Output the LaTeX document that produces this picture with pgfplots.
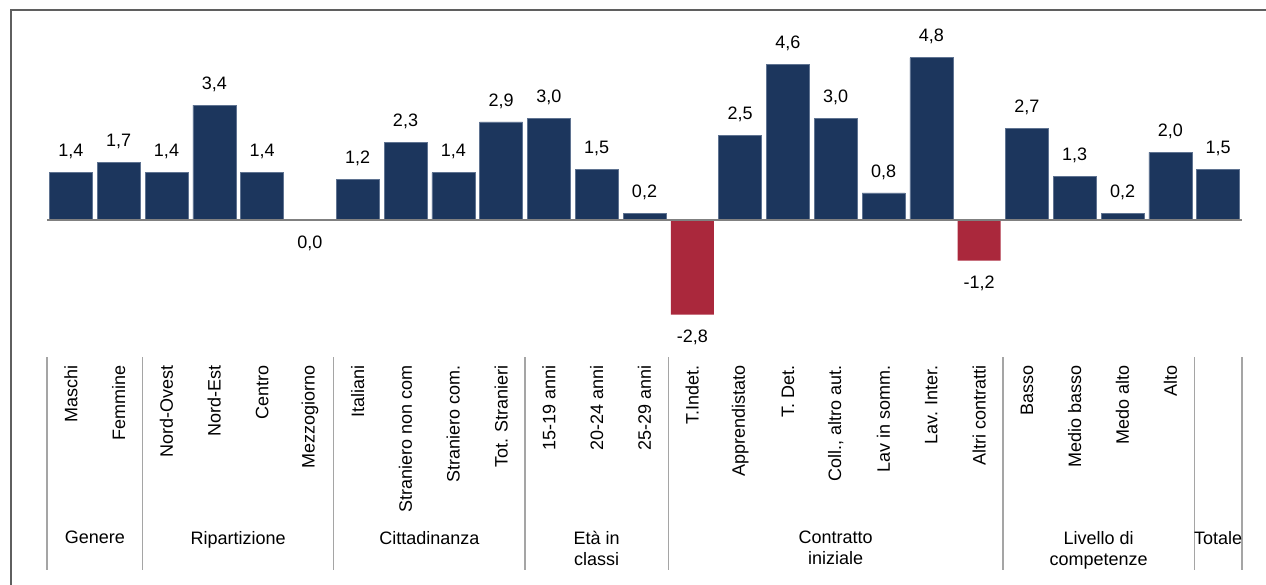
\documentclass[border=0pt]{standalone}
\usepackage{fontspec}
\setmainfont{Liberation Sans}
\usepackage{pgfplots}
\pgfplotsset{compat=1.18}

\definecolor{navy}{RGB}{28,54,93}
\definecolor{barred}{RGB}{170,40,60}
\definecolor{edgeblue}{RGB}{95,115,145}
\definecolor{sepgray}{RGB}{165,165,165}
\definecolor{framegray}{RGB}{95,95,95}
\newcommand{\lbl}{\fontsize{18bp}{21bp}\selectfont}

\begin{document}
\begin{tikzpicture}
\begin{axis}[
    scale only axis,
    width=1195bp, height=341.38bp,
    xmin=-0.5, xmax=24.5,
    ymin=-3.9, ymax=6.2,
    clip=false,
    axis line style={draw=none},
    major tick length=0pt,
    ytick=\empty,
    xtick={0,...,24},
    xticklabels={Maschi, Femmine, Nord-Ovest, Nord-Est, Centro, Mezzogiorno,
        Italiani, Straniero non com, Straniero com., Tot. Stranieri,
        15-19 anni, 20-24 anni, 25-29 anni,
        T.Indet., Apprendistato, T. Det., {Coll., altro aut.}, Lav in somm.,
        Lav. Inter., Altri contratti,
        Basso, Medio basso, Medo alto, Alto, {}},
    xticklabel style={rotate=90, anchor=east, inner sep=0pt, font=\lbl},
    xticklabel shift=13bp,
    /pgf/number format/.cd, fixed, fixed zerofill, precision=1, use comma,
        assume math mode=true,
]

% positive bars
\addplot[ybar, bar width=43bp, fill=navy, draw=edgeblue, line width=0.6bp,
    nodes near coords, nodes near coords align=center,
    every node near coord/.append style={font=\lbl, text=black, yshift=21bp}]
coordinates {
    (0,1.4) (1,1.7) (2,1.4) (3,3.4) (4,1.4)
    (6,1.2) (7,2.3) (8,1.4) (9,2.9)
    (10,3.0) (11,1.5) (12,0.2)
    (14,2.5) (15,4.6) (16,3.0) (17,0.8) (18,4.8)
    (20,2.7) (21,1.3) (22,0.2) (23,2.0) (24,1.5)
};

% zero and negative bars
\addplot[ybar, bar width=43bp, fill=barred, draw=none,
    nodes near coords, nodes near coords align=center,
    every node near coord/.append style={font=\lbl, text=black, yshift=-23bp}]
coordinates {
    (5,0.0) (13,-2.8) (19,-1.2)
};

% zero line
\draw[gray, line width=2.2bp] (axis cs:-0.5,0) -- (axis cs:24.5,0);

% frame (left and top)
\draw[framegray, line width=1.5bp] (axis cs:-1.2531,-11) -- (axis cs:-1.2531,6.213) -- (axis cs:25.2,6.213);

% group separators
\pgfplotsinvokeforeach{-0.5,1.5,5.5,9.5,12.5,19.5,23.5,24.5}{
    \draw[sepgray, line width=1.3bp] (axis cs:#1,-4.053) -- (axis cs:#1,-10.355);
}

% group labels
\node[anchor=north, inner sep=0pt, align=center, font=\lbl] at (axis cs:0.5,-9.20) {Genere};
\node[anchor=north, inner sep=0pt, align=center, font=\lbl] at (axis cs:3.5,-9.20) {Ripartizione};
\node[anchor=north, inner sep=0pt, align=center, font=\lbl] at (axis cs:7.5,-9.20) {Cittadinanza};
\node[anchor=north, inner sep=0pt, align=center, font=\lbl] at (axis cs:11,-9.20) {Età in\\classi};
\node[anchor=north, inner sep=0pt, align=center, font=\lbl] at (axis cs:16,-9.20) {Contratto\\iniziale};
\node[anchor=north, inner sep=0pt, align=center, font=\lbl] at (axis cs:21.5,-9.20) {Livello di\\competenze};
\node[anchor=north, inner sep=0pt, align=center, font=\lbl] at (axis cs:24,-9.20) {Totale};

\coordinate (bbA) at (axis cs:-1.4833,6.5089);
\coordinate (bbB) at (axis cs:25.0021,-10.769);
\end{axis}
\pgfresetboundingbox
\useasboundingbox (bbA) rectangle (bbB);
\end{tikzpicture}
\end{document}
